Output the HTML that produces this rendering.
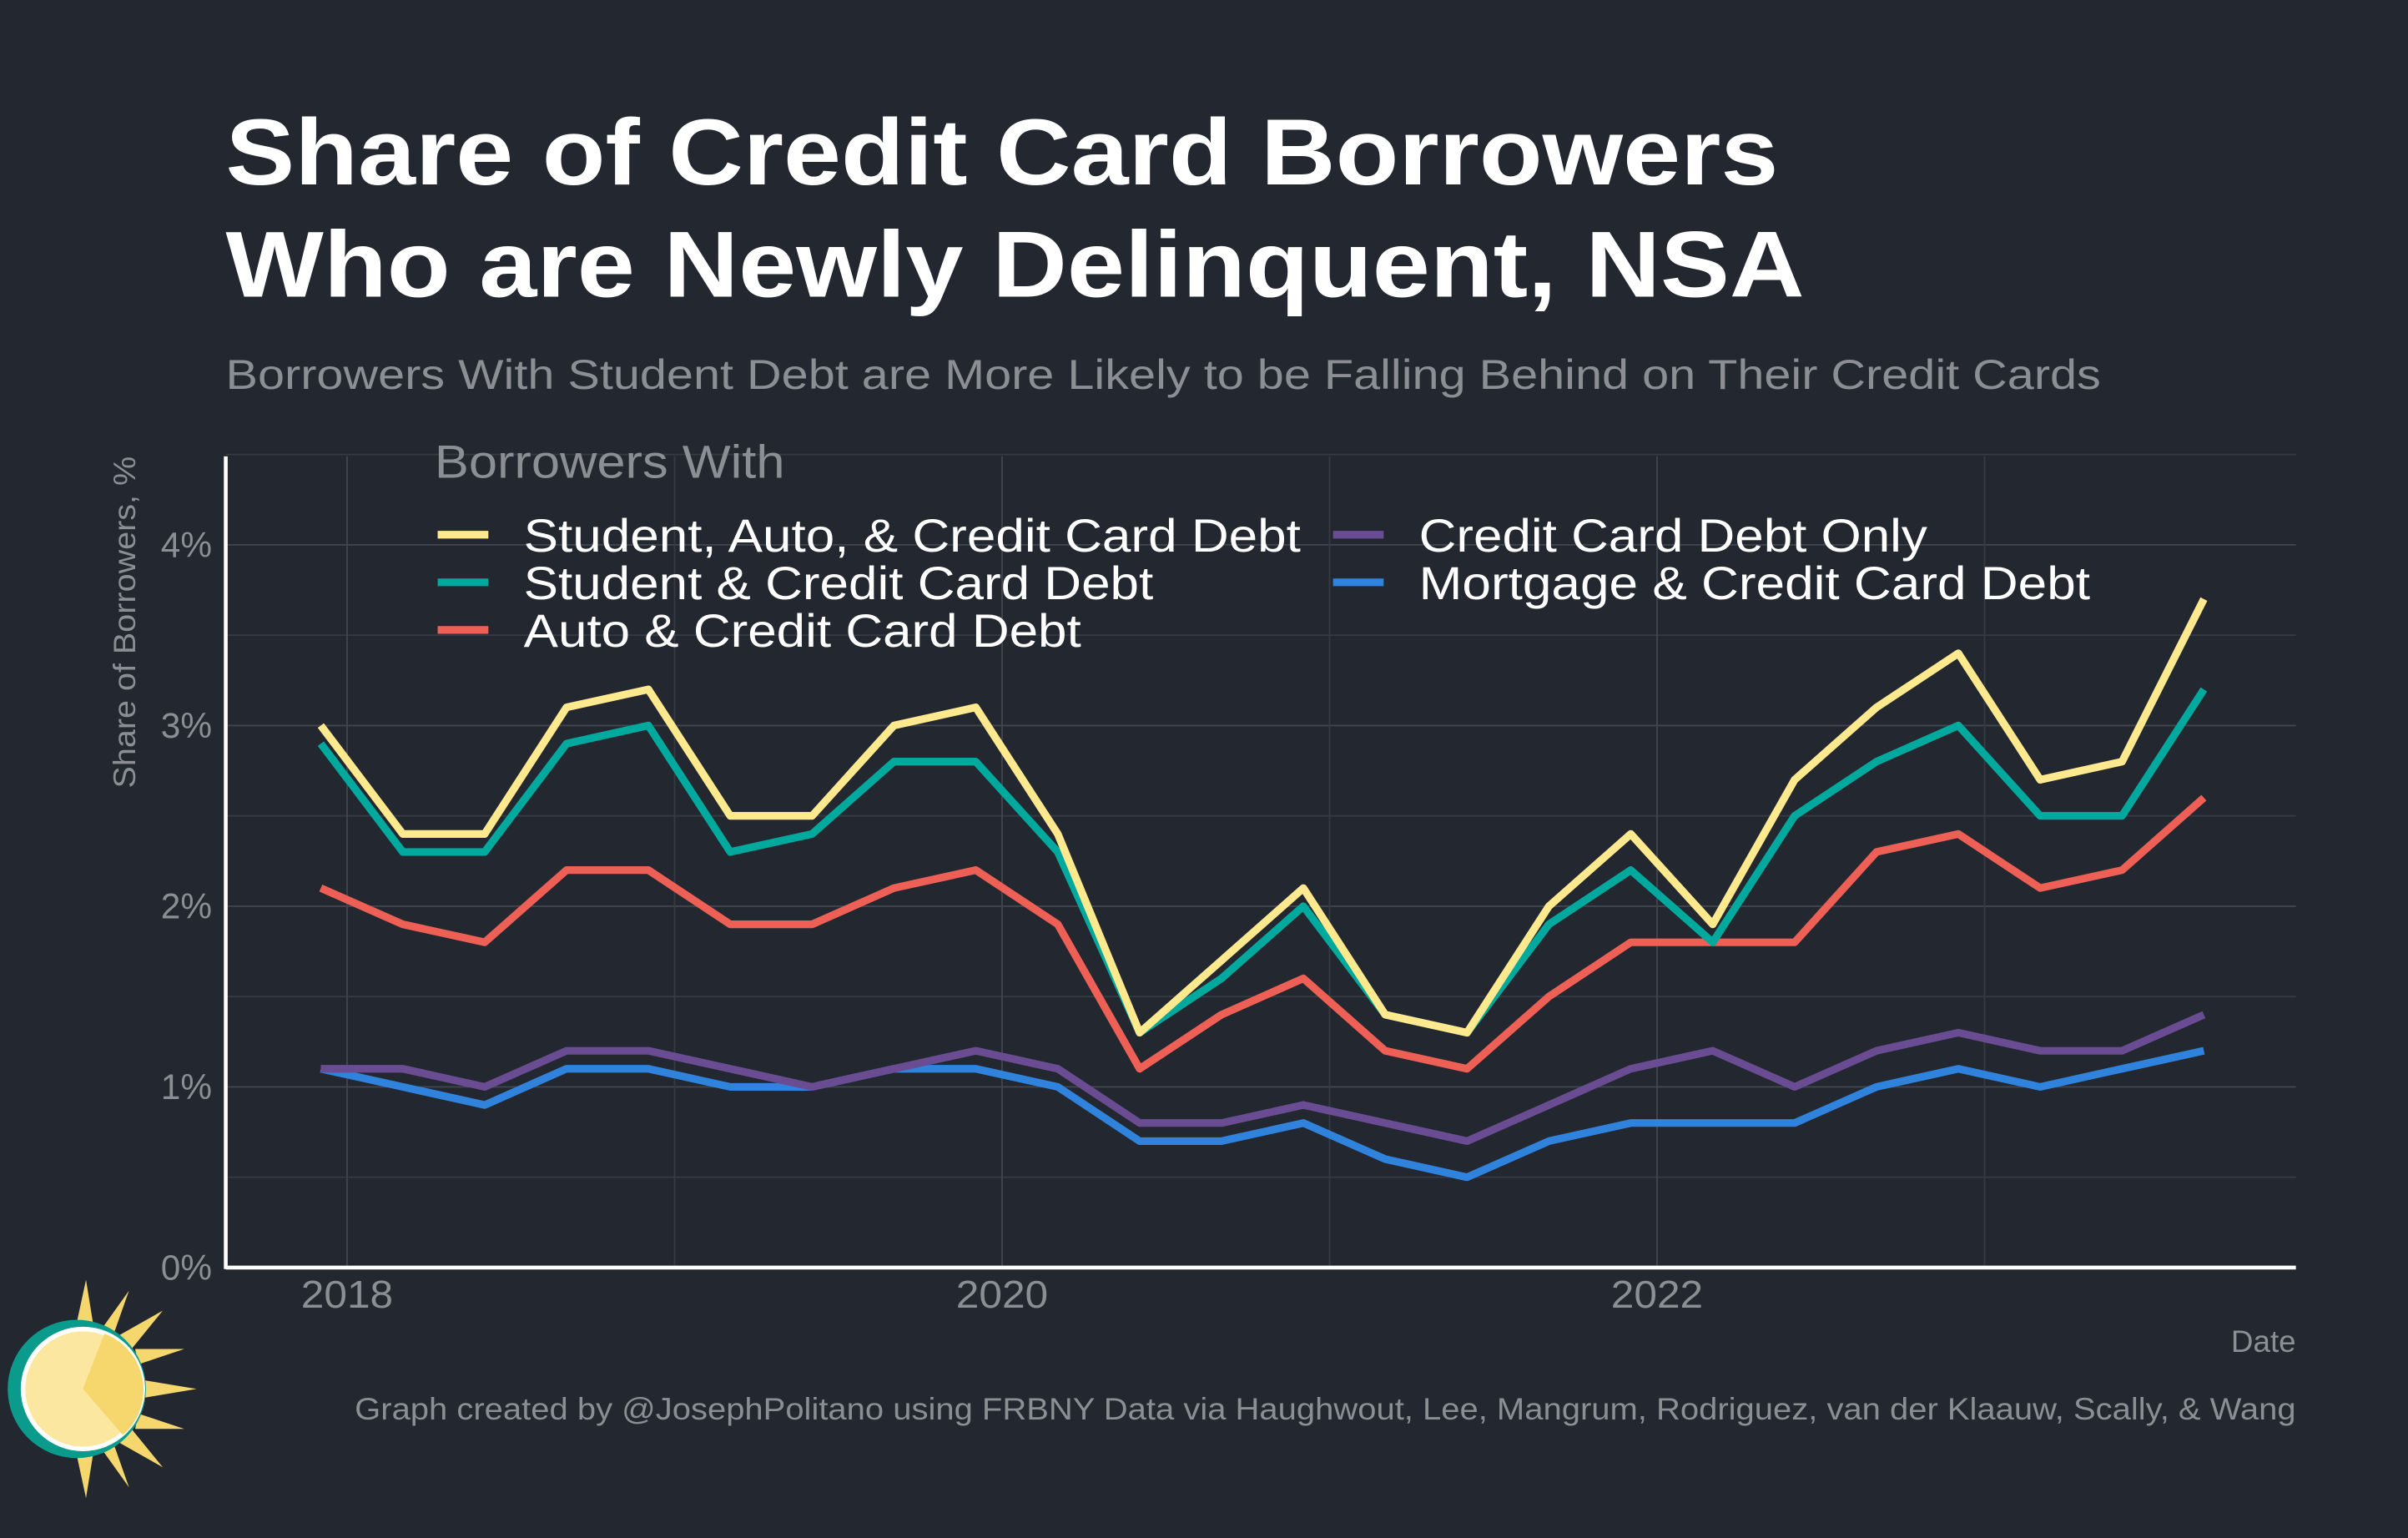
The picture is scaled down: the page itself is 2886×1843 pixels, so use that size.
<!DOCTYPE html>
<html><head><meta charset="utf-8"><style>
html,body{margin:0;padding:0;background:#23272f;}
svg{display:block;font-family:"Liberation Sans",Arial,sans-serif;}
</style></head><body>
<svg id="chart" width="2886" height="1843" viewBox="0 0 1568 1001" preserveAspectRatio="none" xmlns="http://www.w3.org/2000/svg">
<rect width="1568" height="1001" fill="#23272f"/>
<text x="147" y="120" fill="#ffffff" font-size="61" font-weight="bold" textLength="1011" lengthAdjust="spacingAndGlyphs">Share of Credit Card Borrowers</text>
<text x="147" y="193" fill="#ffffff" font-size="61" font-weight="bold" textLength="1028" lengthAdjust="spacingAndGlyphs">Who are Newly Delinquent, NSA</text>
<text x="147" y="253" fill="#8b8e94" font-size="27" textLength="1221" lengthAdjust="spacingAndGlyphs">Borrowers With Student Debt are More Likely to be Falling Behind on Their Credit Cards</text>
<g id="grid"></g>
<g id="axes"></g>
<g id="series"></g>
<text x="283" y="311" fill="#8b8e94" font-size="30" textLength="228" lengthAdjust="spacingAndGlyphs">Borrowers With</text>
<g id="legend"></g>
<text transform="translate(88,405) rotate(-90)" text-anchor="middle" fill="#8b8e94" font-size="20" textLength="216" lengthAdjust="spacingAndGlyphs">Share of Borrowers, %</text>
<text x="1495" y="880" text-anchor="end" fill="#8b8e94" font-size="20">Date</text>
<text x="1495" y="924" text-anchor="end" fill="#8b8e94" font-size="20" textLength="1264" lengthAdjust="spacingAndGlyphs">Graph created by @JosephPolitano using FRBNY Data via Haughwout, Lee, Mangrum, Rodriguez, van der Klaauw, Scally, &amp; Wang</text>
<g>
<polygon points="56,833 62,870 48,870" fill="#f5d76e"/>
<polygon points="56,975 62,938 48,938" fill="#f5d76e"/>
<polygon points="128,904 92,898 92,910" fill="#f5d76e"/>
<polygon points="106,853 84,880 76,870" fill="#f5d76e"/>
<polygon points="106,955 84,928 76,938" fill="#f5d76e"/>
<polygon points="120,878 90,888 88,878" fill="#f5d76e"/>
<polygon points="120,930 90,920 88,930" fill="#f5d76e"/>
<polygon points="84,840 72,874 64,868" fill="#f5d76e"/>
<polygon points="84,968 72,934 64,940" fill="#f5d76e"/>
<circle cx="50" cy="904" r="45" fill="#0a9b8c"/>
<circle cx="54" cy="904" r="39" fill="#fbe7a0"/>
<circle cx="54" cy="904" r="39" fill="none" stroke="#ffffff" stroke-width="3"/>
<path d="M54,904 L68,868 A39,39 0 0 1 80,934 Z" fill="#f5d76e"/>
</g>
</svg>
<script>
const dates = [2017.92,2018.17,2018.42,2018.67,2018.92,2019.17,2019.42,2019.67,2019.92,2020.17,2020.42,2020.67,2020.92,2021.17,2021.42,2021.67,2021.92,2022.17,2022.42,2022.67,2022.92,2023.17,2023.42,2023.67];
const studentAuto = [3.0,2.4,2.4,3.1,3.2,2.5,2.5,3.0,3.1,2.4,1.3,1.7,2.1,1.4,1.3,2.0,2.4,1.9,2.7,3.1,3.4,2.7,2.8,3.7];
const student = [2.9,2.3,2.3,2.9,3.0,2.3,2.4,2.8,2.8,2.3,1.3,1.6,2.0,1.4,1.3,1.9,2.2,1.8,2.5,2.8,3.0,2.5,2.5,3.2];
const auto = [2.1,1.9,1.8,2.2,2.2,1.9,1.9,2.1,2.2,1.9,1.1,1.4,1.6,1.2,1.1,1.5,1.8,1.8,1.8,2.3,2.4,2.1,2.2,2.6];
const ccOnly = [1.1,1.1,1.0,1.2,1.2,1.1,1.0,1.1,1.2,1.1,0.8,0.8,0.9,0.8,0.7,0.9,1.1,1.2,1.0,1.2,1.3,1.2,1.2,1.4];
const mortgage = [1.1,1.0,0.9,1.1,1.1,1.0,1.0,1.1,1.1,1.0,0.7,0.7,0.8,0.6,0.5,0.7,0.8,0.8,0.8,1.0,1.1,1.0,1.1,1.2];
const yTicks = [0,1,2,3,4];
const yTickLabels = ["0%","1%","2%","3%","4%"];
const xTicks = [2018,2020,2022];
const xTickLabels = ["2018","2020","2022"];

const NS="http://www.w3.org/2000/svg";
const X0=147,X1=1495,Y0=825,Y1=297;
const xs=v=>226+(v-2018)*213.25;
const ys=v=>825-v*117.6;
function mk(tag,parent){const e=document.createElementNS(NS,tag);parent.appendChild(e);return e;}
const grid=document.getElementById('grid'),axes=document.getElementById('axes'),series=document.getElementById('series'),legend=document.getElementById('legend');
for(let v=0.5;v<=4.5;v+=0.5){const l=mk('line',grid);l.setAttribute('x1',X0);l.setAttribute('x2',X1);l.setAttribute('y1',ys(v));l.setAttribute('y2',ys(v));l.setAttribute('stroke',v%1===0?'#41454d':'#363a42');l.setAttribute('stroke-width',1);

}
for(let yr=2018;yr<=2023;yr++){const l=mk('line',grid);l.setAttribute('x1',xs(yr));l.setAttribute('x2',xs(yr));l.setAttribute('y1',Y1);l.setAttribute('y2',Y0);l.setAttribute('stroke',yr%2===0?'#41454d':'#363a42');

}
yTicks.forEach((v,i)=>{const t=mk('text',axes);t.setAttribute('x',138);t.setAttribute('y',ys(v)+8);t.setAttribute('text-anchor','end');t.setAttribute('fill','#8b8e94');t.setAttribute('font-size','23');t.textContent=yTickLabels[i];

});
xTicks.forEach((v,i)=>{const t=mk('text',axes);t.setAttribute('x',xs(v));t.setAttribute('y',851);t.setAttribute('text-anchor','middle');t.setAttribute('fill','#8b8e94');t.setAttribute('font-size','25');t.setAttribute('textLength','60');t.setAttribute('lengthAdjust','spacingAndGlyphs');t.textContent=xTickLabels[i];

});
const ax1=mk('line',axes);ax1.setAttribute('x1',X0);ax1.setAttribute('x2',X0);ax1.setAttribute('y1',Y1);ax1.setAttribute('y2',Y0+1);ax1.setAttribute('stroke','#fff');ax1.setAttribute('stroke-width',2.5);


const ax2=mk('line',axes);ax2.setAttribute('x1',X0);ax2.setAttribute('x2',X1);ax2.setAttribute('y1',Y0);ax2.setAttribute('y2',Y0);ax2.setAttribute('stroke','#fff');ax2.setAttribute('stroke-width',2.5);


const defs=[
 {d:mortgage,c:'#3083dc',n:'Mortgage & Credit Card Debt',w:437,lx:868,ly:379,name:'line-mortgage'},
 {d:ccOnly,c:'#6a4c93',n:'Credit Card Debt Only',w:331,lx:868,ly:348,name:'line-credit-card-only'},
 {d:auto,c:'#ee6055',n:'Auto & Credit Card Debt',w:363,lx:285,ly:410,name:'line-auto'},
 {d:student,c:'#00a99d',n:'Student & Credit Card Debt',w:410,lx:285,ly:379,name:'line-student'},
 {d:studentAuto,c:'#ffe98f',n:'Student, Auto, & Credit Card Debt',w:506,lx:285,ly:348,name:'line-student-auto'}
];
defs.forEach(s=>{const p=mk('polyline',series);p.setAttribute('points',s.d.map((v,i)=>xs(dates[i]).toFixed(1)+','+ys(v).toFixed(1)).join(' '));p.setAttribute('fill','none');p.setAttribute('stroke',s.c);p.setAttribute('stroke-width',5);p.setAttribute('stroke-linejoin','round');


const l=mk('line',legend);l.setAttribute('x1',s.lx);l.setAttribute('x2',s.lx+33);l.setAttribute('y1',s.ly);l.setAttribute('y2',s.ly);l.setAttribute('stroke',s.c);l.setAttribute('stroke-width',5);


const t=mk('text',legend);t.setAttribute('x',s.lx+56);t.setAttribute('y',s.ly+11);t.setAttribute('fill','#fff');t.setAttribute('font-size','30');t.setAttribute('textLength',s.w);t.setAttribute('lengthAdjust','spacingAndGlyphs');t.textContent=s.n;

});
</script>
</body></html>
